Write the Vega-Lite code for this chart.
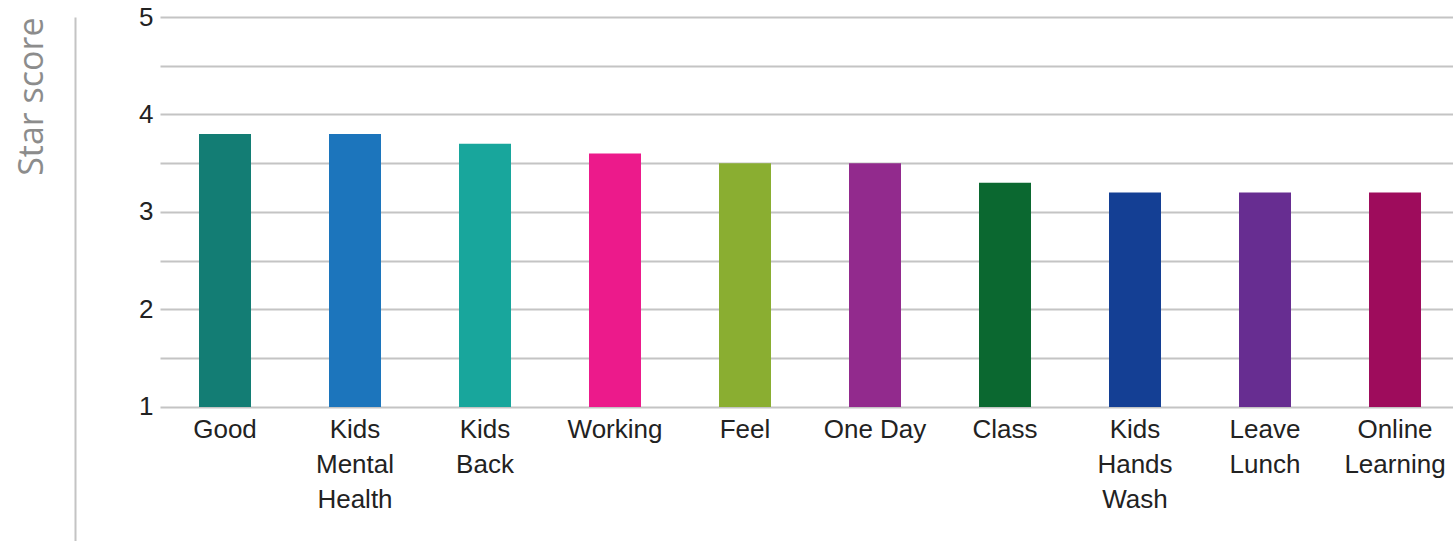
{
  "$schema": "https://vega.github.io/schema/vega-lite/v6.json",
  "autosize": "none",
  "padding": {"left": 160, "top": 17, "right": 0, "bottom": 0},
  "width": 1300,
  "height": 524,
  "background": "white",
  "config": {"view": {"stroke": null}},
  "data": {"values": [
    {"topic": "Good", "score": 3.8, "color": "#137D74"},
    {"topic": "Kids Mental Health", "score": 3.8, "color": "#1C75BC"},
    {"topic": "Kids Back", "score": 3.7, "color": "#18A69C"},
    {"topic": "Working", "score": 3.6, "color": "#EC1A8B"},
    {"topic": "Feel", "score": 3.5, "color": "#8AAE31"},
    {"topic": "One Day", "score": 3.5, "color": "#922A8D"},
    {"topic": "Class", "score": 3.3, "color": "#0B6830"},
    {"topic": "Kids Hands Wash", "score": 3.2, "color": "#143F94"},
    {"topic": "Leave Lunch", "score": 3.2, "color": "#672D91"},
    {"topic": "Online Learning", "score": 3.2, "color": "#9E0C5C"}
  ]},
  "mark": {"type": "bar"},
  "encoding": {
    "x": {
      "field": "topic", "type": "nominal", "sort": null,
      "scale": {"paddingInner": 0.6, "paddingOuter": 0.3},
      "axis": {
        "orient": "bottom", "offset": -134, "domain": false, "ticks": false, "tickSize": 0,
        "labelAngle": 0, "labelPadding": 9, "labelFont": "Liberation Sans", "labelFontSize": 26,
        "labelColor": "#222222", "labelLineHeight": 35, "labelBaseline": "top",
        "labelExpr": "datum.label == 'One Day' ? datum.label : split(datum.label, ' ')",
        "title": null
      }
    },
    "y": {
      "field": "score", "type": "quantitative",
      "scale": {"domain": [-0.3744, 5], "nice": false, "zero": false},
      "axis": {
        "orient": "left", "offset": 85,
        "values": [1, 1.5, 2, 2.5, 3, 3.5, 4, 4.5, 5],
        "labelExpr": "datum.value % 1 == 0 ? format(datum.value, 'd') : ''",
        "domain": true, "domainColor": "#c4c4c4", "domainWidth": 2,
        "ticks": false, "tickSize": 0,
        "grid": true, "gridColor": "#c4c4c4", "gridWidth": 2,
        "labelPadding": -78, "labelAlign": "right", "labelFont": "Liberation Sans",
        "labelFontSize": 26, "labelColor": "#222222",
        "title": "Star score", "titleFont": "Open Sans", "titleFontSize": 34,
        "titleFontWeight": "normal", "titleColor": "#8c8c8c",
        "titleAnchor": "end", "titlePadding": 26
      }
    },
    "y2": {"datum": 1},
    "color": {"field": "color", "type": "nominal", "scale": null, "legend": null}
  }
}
